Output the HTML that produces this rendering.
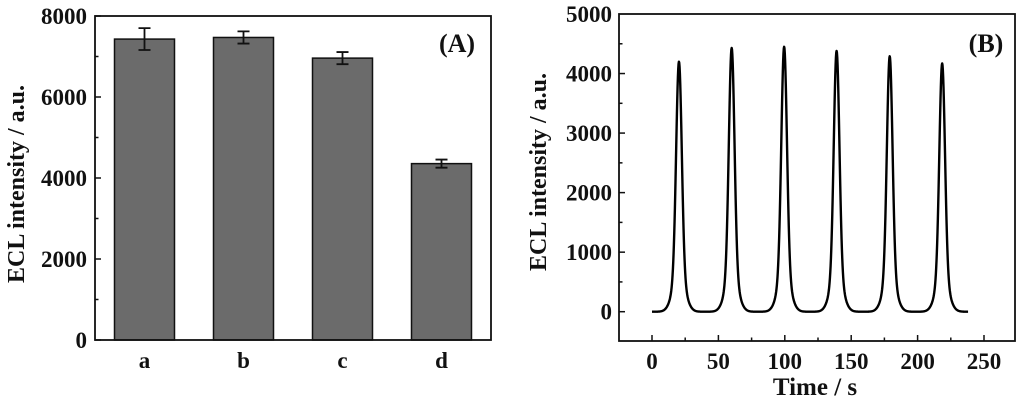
<!DOCTYPE html>
<html><head><meta charset="utf-8"><style>
html,body{margin:0;padding:0;background:#fff}
svg{display:block}
text{font-family:"Liberation Serif",serif;font-weight:bold;fill:#111}
</style></head><body>
<svg id="c" width="1024" height="404" viewBox="0 0 1024 404">
<g id="pa"></g>
<g id="pb"></g>
</svg>
<script>
const catsA = ["a","b","c","d"];
const valsA = [7430, 7470, 6960, 4355];
const errsA = [270, 150, 150, 100];
const yTicksA = [0,2000,4000,6000,8000];
const peakTimes = [20.3, 60, 99.5, 139, 179, 218.5];
const peakHeights = [4200, 4430, 4450, 4380, 4290, 4170];
const xTicksB = [0,50,100,150,200,250];
const yTicksB = [0,1000,2000,3000,4000,5000];
const ns="http://www.w3.org/2000/svg";
function mk(p,t,a,txt){const e=document.createElementNS(ns,t);for(const k in a)e.setAttribute(k,a[k]);if(txt!==undefined)e.textContent=txt;p.appendChild(e);return e;}
// Panel A
const A=document.getElementById('pa');
const aL=95,aR=491,aT=16,aB=340;
const yA=v=>aB-(v/8000)*(aB-aT);
const band=(aR-aL)/catsA.length;
const xA=i=>aL+band*(i+0.5);
catsA.forEach((c,i)=>{
 const cx=xA(i),w=60;
 const b=mk(A,'rect',{x:cx-w/2,y:yA(valsA[i]),width:w,height:aB-yA(valsA[i]),fill:'#6b6b6b',stroke:'#111','stroke-width':1.5});
 
 
 const t=yA(valsA[i]+errsA[i]),bt=yA(valsA[i]-errsA[i]);
 const e=mk(A,'path',{d:`M${cx} ${t}V${bt}M${cx-6} ${t}H${cx+6}M${cx-6} ${bt}H${cx+6}`,stroke:'#111','stroke-width':1.8,fill:'none'});
 
 
 const l=mk(A,'text',{x:cx,y:368,'text-anchor':'middle','font-size':23},c);
 
 
});
mk(A,'rect',{x:aL,y:aT,width:aR-aL,height:aB-aT,fill:'none',stroke:'#111','stroke-width':1.8,});
for(let v=0;v<=8000;v+=1000){
 const y=yA(v),len=v%2000===0?6:3.5;
 mk(A,'line',{x1:aL,x2:aL+len,y1:y,y2:y,stroke:'#111','stroke-width':1.5});
}
yTicksA.forEach(v=>{
 const t=mk(A,'text',{x:87,y:yA(v)+8,'text-anchor':'end','font-size':23},v);
 
 
});
mk(A,'text',{x:0,y:0,transform:'translate(24,184) rotate(-90)','text-anchor':'middle','font-size':24,},'ECL intensity / a.u.');
mk(A,'text',{x:457,y:52,'text-anchor':'middle','font-size':26,},'(A)');
// Panel B
const B=document.getElementById('pb');
const bL=619,bR=1015,bT=14,bB=341;
const xB=t=>652+(t/250)*332;
const yB=v=>311.7-(v/5000)*(311.7-14);
for(let t=0;t<=250;t+=25){
 const x=xB(t),len=t%50===0?6:3.5;
 mk(B,'line',{x1:x,x2:x,y1:bB,y2:bB-len,stroke:'#111','stroke-width':1.5});
}
for(let v=-500;v<=5000;v+=500){
 const y=yB(v),len=v%1000===0?6:3.5;
 if(y>bB-1||y<bT+1)continue;
 mk(B,'line',{x1:bL,x2:bL+len,y1:y,y2:y,stroke:'#111','stroke-width':1.5});
}
xTicksB.forEach(t=>{
 const e=mk(B,'text',{x:xB(t),y:369,'text-anchor':'middle','font-size':23},t);
 
 
});
yTicksB.forEach(v=>{
 const e=mk(B,'text',{x:612,y:yB(v)+8,'text-anchor':'end','font-size':23},v);
 
 
});
let d='';
for(let t=0;t<=238;t+=0.25){
 let v=0;
 peakTimes.forEach((p,i)=>{const z1=(t-p)/2.1,z2=(t-p)/4.5;v+=peakHeights[i]*(0.85*Math.exp(-z1*z1/2)+0.15*Math.exp(-z2*z2/2));});
 d+=(d?'L':'M')+xB(t).toFixed(2)+' '+yB(v).toFixed(2);
}
const ln=mk(B,'path',{d:d,fill:'none',stroke:'#000','stroke-width':2.4,'stroke-linejoin':'round'});


mk(B,'rect',{x:bL,y:bT,width:bR-bL,height:bB-bT,fill:'none',stroke:'#111','stroke-width':1.8,});
mk(B,'text',{x:815,y:395,'text-anchor':'middle','font-size':25,},'Time / s');
mk(B,'text',{x:0,y:0,transform:'translate(546,172) rotate(-90)','text-anchor':'middle','font-size':24,},'ECL intensity / a.u.');
mk(B,'text',{x:986,y:52,'text-anchor':'middle','font-size':26,},'(B)');
</script>
</body></html>
